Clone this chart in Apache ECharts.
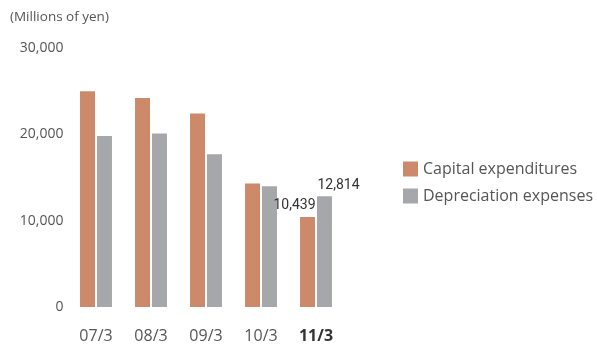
<!DOCTYPE html>
<html>
<head>
<meta charset="utf-8">
<script src="https://cdn.jsdelivr.net/npm/echarts@6/dist/echarts.min.js"></script>
<style>
  html, body { margin: 0; padding: 0; background: #fff; }
  #chart { width: 597px; height: 344px; }
</style>
</head>
<body>
<div id="chart"></div>
<script>
// Fiscal years (year/month of fiscal year end)
const categories = ['07/3', '08/3', '09/3', '10/3', '11/3'];
// Millions of yen
const capitalExpenditures = [25000, 24200, 22400, 14300, 10439];
const depreciationExpenses = [19800, 20100, 17700, 14000, 12814];
const yTicks = [0, 10000, 20000, 30000];

const FONT = '"Open Sans", "Noto Sans", sans-serif';
const LABEL_FONT = 'Roboto, "Open Sans", sans-serif';
const lastIdx = categories.length - 1;

function withLastLabel(values, offsetX) {
  return values.map((v, i) => i === lastIdx ? {
    value: v,
    label: {
      show: true,
      position: 'top',
      offset: [offsetX, 0],
      distance: 4,
      formatter: p => p.value.toLocaleString('en-US'),
      fontFamily: LABEL_FONT,
      fontSize: 14,
      color: '#333'
    }
  } : v);
}

const chart = echarts.init(document.getElementById('chart'));
chart.setOption({
  animation: false,
  title: {
    text: '(Millions of yen)',
    left: 5,
    top: 5,
    textStyle: { fontFamily: FONT, fontSize: 13.5, fontWeight: 'normal', color: '#555' }
  },
  legend: {
    orient: 'vertical',
    left: 403,
    top: 161,
    padding: 0,
    itemWidth: 15,
    itemHeight: 15,
    itemGap: 11,
    icon: 'rect',
    textStyle: { fontFamily: FONT, fontSize: 16, color: '#555' },
    data: ['Capital expenditures', 'Depreciation expenses']
  },
  grid: { left: 68.5, right: 597 - 343.5, top: 48, bottom: 37 },
  xAxis: {
    type: 'category',
    data: categories,
    axisLine: { show: false },
    axisTick: { show: false },
    axisLabel: {
      interval: 0,
      margin: 21,
      fontFamily: FONT,
      fontSize: 16,
      color: '#555',
      formatter: (v, i) => i === lastIdx ? '{b|' + v + '}' : v,
      rich: { b: { fontFamily: FONT, fontSize: 16, fontWeight: 'bold', color: '#333' } }
    }
  },
  yAxis: {
    type: 'value',
    min: yTicks[0],
    max: yTicks[yTicks.length - 1],
    interval: yTicks[1] - yTicks[0],
    splitLine: { show: false },
    axisLine: { show: false },
    axisTick: { show: false },
    axisLabel: {
      margin: 5,
      fontFamily: FONT,
      fontSize: 14,
      color: '#555',
      formatter: v => v.toLocaleString('en-US')
    }
  },
  series: [
    {
      name: 'Capital expenditures',
      type: 'bar',
      data: withLastLabel(capitalExpenditures, -13),
      barWidth: 15,
      barGap: '13%',
      itemStyle: { color: '#CD8A6A' }
    },
    {
      name: 'Depreciation expenses',
      type: 'bar',
      data: withLastLabel(depreciationExpenses, 14),
      barWidth: 15,
      itemStyle: { color: '#A6A7AB' }
    }
  ]
});
</script>
</body>
</html>
